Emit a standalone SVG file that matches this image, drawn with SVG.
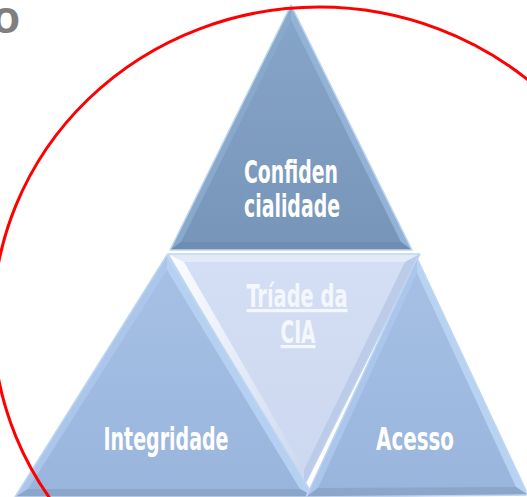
<svg xmlns="http://www.w3.org/2000/svg" width="527" height="497" viewBox="0 0 527 497">
<style>
.lbl{font-family:"Liberation Sans Narrow","DejaVu Sans Condensed","Liberation Sans",sans-serif;font-weight:bold;font-size:32px;fill:#FFFFFF;text-anchor:middle}
.edge{fill:none;stroke:#BFD6F0;stroke-width:1.5;stroke-linejoin:round}
.fac{stroke:none}
</style>
<defs>
<linearGradient id="gTop" x1="0" y1="0" x2="0" y2="1">
<stop offset="0" stop-color="#86A6C9"/><stop offset="1" stop-color="#7795B9"/>
</linearGradient>
<linearGradient id="gBot" x1="0" y1="0" x2="0" y2="1">
<stop offset="0" stop-color="#A6C0E5"/><stop offset="1" stop-color="#9AB5DC"/>
</linearGradient>
<linearGradient id="gMid" x1="0" y1="0" x2="0" y2="1">
<stop offset="0" stop-color="#D4DEF4"/><stop offset="1" stop-color="#CCD8F0"/>
</linearGradient>
<linearGradient id="gShine" x1="0" y1="0" x2="1" y2="0">
<stop offset="0" stop-color="#FFFFFF" stop-opacity="0.95"/><stop offset="1" stop-color="#FFFFFF" stop-opacity="0"/>
</linearGradient>
</defs>

<text x="20" y="33" style="font-family:'Liberation Sans',Arial,sans-serif;font-weight:bold;font-size:46px;fill:#7F7F7F;text-anchor:end">o</text>

<g id="node-triade">
<polygon points="168,254 420,254 304,486" fill="url(#gMid)"/>
<polygon class="fac" points="168,254 420,254 405,262 184,262" fill="#E3EAF8"/>
<polygon class="fac" points="168,254 184,262 304,470 304,486" fill="url(#gShine)"/>
<polygon class="fac" points="420,254 405,262 304,470 304,486" fill="#BCCBE8"/>
<polygon class="edge" points="168,254 420,254 304,486"/>
<text class="lbl" x="297" y="307" textLength="101" lengthAdjust="spacingAndGlyphs" style="text-decoration:underline;fill:#F4F7FD">Tríade da</text>
<text class="lbl" x="298" y="343" textLength="35" lengthAdjust="spacingAndGlyphs" style="text-decoration:underline;fill:#F4F7FD">CIA</text>
</g>

<g id="node-integridade">
<polygon points="167,255 314,497 15,497" fill="url(#gBot)"/>
<polygon class="fac" points="167,255 15,497 28,489 167,270" fill="#ABC6EA"/>
<polygon class="fac" points="167,255 314,497 300,489 167,270" fill="#B5D0F1"/>
<polygon class="fac" points="15,497 314,497 300,489 28,489" fill="#8CA6CB"/>
<polygon class="edge" points="167,255 314,497 15,497"/>
<text class="lbl" x="166" y="450" textLength="125" lengthAdjust="spacingAndGlyphs">Integridade</text>
</g>

<g id="node-acesso">
<polygon points="417,258 528,495 306,497" fill="url(#gBot)"/>
<polygon class="fac" points="417,258 306,497 318,488 417,273" fill="#ABC6EA"/>
<polygon class="fac" points="417,258 528,495 516,487 417,273" fill="#B8D3F2"/>
<polygon class="fac" points="306,497 528,495 516,487 318,488" fill="#8CA6CB"/>
<polygon class="edge" points="417,258 528,495 306,497"/>
<text class="lbl" x="415" y="450" textLength="78" lengthAdjust="spacingAndGlyphs">Acesso</text>
</g>

<g id="node-confidencialidade">
<polygon points="291,5 412,250 170,250" fill="url(#gTop)"/>
<polygon class="fac" points="291,5 170,250 181,242 291,20" fill="#89A9CC"/>
<polygon class="fac" points="291,5 412,250 401,242 291,20" fill="#93B3D6"/>
<polygon class="fac" points="170,250 412,250 401,242 181,242" fill="#6F8DB1"/>
<polygon class="edge" points="291,5 412,250 170,250"/>
<text class="lbl" x="291" y="183" textLength="94" lengthAdjust="spacingAndGlyphs">Confiden</text>
<text class="lbl" x="292" y="217" textLength="96" lengthAdjust="spacingAndGlyphs">cialidade</text>
</g>

<g id="circle">
<ellipse cx="319" cy="321" rx="326" ry="314" fill="none" stroke="#FF0000" stroke-width="3"/>
</g>
</svg>
